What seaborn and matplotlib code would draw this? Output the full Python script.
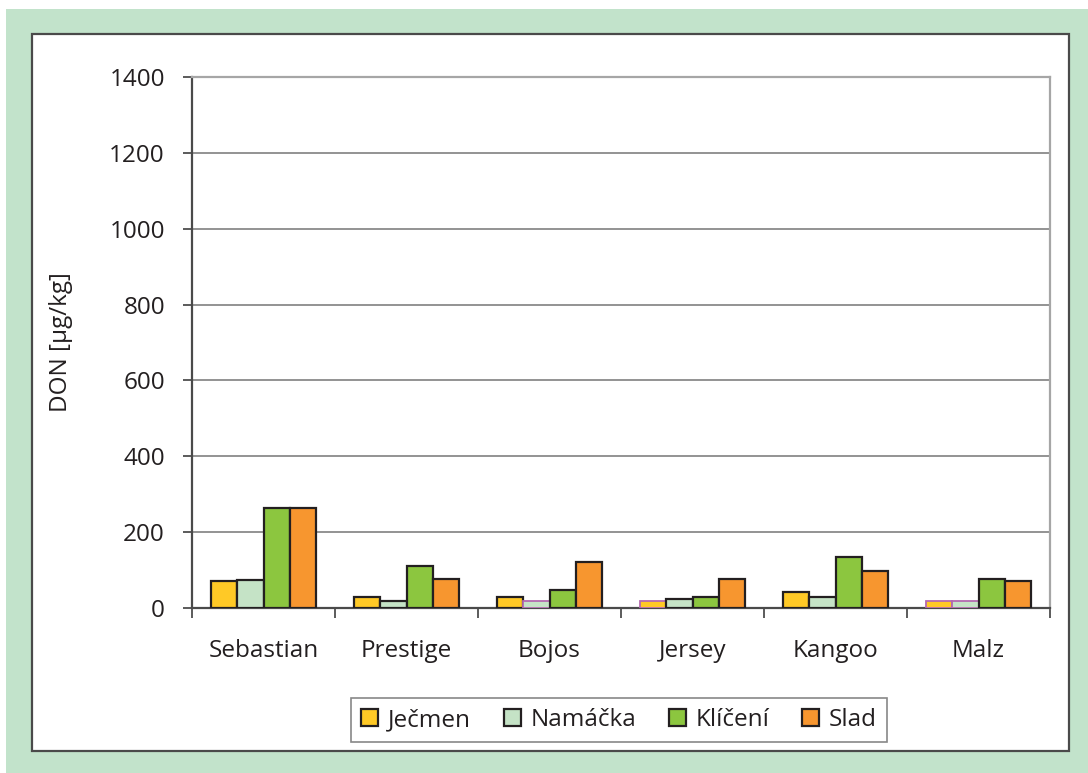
import numpy as np
import pandas as pd
import matplotlib
matplotlib.use("Agg")
import matplotlib.pyplot as plt
from matplotlib.patches import Rectangle
from matplotlib.ticker import FixedLocator
import seaborn as sns

varieties = ["Sebastian", "Prestige", "Bojos", "Jersey", "Kangoo", "Malz"]
stages = ["Ječmen", "Namáčka", "Klíčení", "Slad"]
jecmen = [70, 28, 28, 18, 42, 18]
namacka = [75, 18, 18, 24, 29, 18]
kliceni = [263, 110, 47, 29, 134, 76]
slad = [263, 76, 121, 76, 98, 71]
# bars drawn with a purple outline in the original (values at limit)
purple_outlined = [("Bojos", "Namáčka"), ("Jersey", "Ječmen"),
                   ("Malz", "Ječmen"), ("Malz", "Namáčka")]
y_ticks = [0, 200, 400, 600, 800, 1000, 1200, 1400]

colors = ["#FFC926", "#C5E3C6", "#8CC63F", "#F7962F"]

rows = []
for st, vals in zip(stages, [jecmen, namacka, kliceni, slad]):
    for v, val in zip(varieties, vals):
        rows.append({"variety": v, "stage": st, "value": val})
df = pd.DataFrame(rows)

sns.set_theme(style="white")
plt.rcParams["font.family"] = ["Open Sans", "DejaVu Sans"]

W, H = 1088, 773
fig = plt.figure(figsize=(W / 100, H / 100), dpi=100)
fig.patch.set_facecolor("white")

# green frame and white panel
fig.add_artist(Rectangle((6 / W, 0), 1 - 6 / W, 1 - 9 / H, transform=fig.transFigure,
                         facecolor="#C2E3CB", edgecolor="none", zorder=-10))
fig.add_artist(Rectangle((32 / W, 1 - 751 / H), (1069 - 32) / W, (751 - 34) / H,
                         transform=fig.transFigure, facecolor="white",
                         edgecolor="#4a4a4a", linewidth=1.6, zorder=-9))

ax = fig.add_axes([192 / W, 1 - 608 / H, (1050 - 192) / W, (608 - 77) / H])
ax.set_facecolor("white")

sns.barplot(data=df, x="variety", y="value", hue="stage", order=varieties,
            hue_order=stages, palette=colors, saturation=1, width=0.734,
            edgecolor="#231F20", linewidth=1.6, ax=ax, legend=True, zorder=3)

for i, cont in enumerate(ax.containers):
    for j, bar in enumerate(cont):
        if (varieties[j], stages[i]) in purple_outlined:
            bar.set_edgecolor("#B469B0")
            bar.set_linewidth(1.3)

FS = 17.5
ax.set_ylim(0, 1400)
ax.set_xlim(-0.5, len(varieties) - 0.5)
ax.set_yticks(y_ticks)
ax.yaxis.grid(True, color="#8a8a8a", linewidth=1.3, zorder=0)
ax.set_axisbelow(True)
ax.tick_params(axis="y", which="major", length=6.5, width=1.2, color="#404040",
               direction="out", pad=13, labelsize=FS, labelcolor="#231F20", left=True)
ax.tick_params(axis="x", which="major", length=0, pad=22, labelsize=FS,
               labelcolor="#231F20")
ax.xaxis.set_minor_locator(FixedLocator(np.arange(0.5, len(varieties) - 0.5, 1.0).tolist()
                                        + [-0.5, len(varieties) - 0.5]))
ax.tick_params(axis="x", which="minor", length=7, width=1.2, color="#404040",
               direction="out", bottom=True)
ax.set_xlabel("")
ax.set_ylabel("DON [µg/kg]", fontsize=FS, color="#231F20", labelpad=26)

for s in ["left", "bottom"]:
    ax.spines[s].set_color("#4a4a4a")
    ax.spines[s].set_linewidth(1.6)
for s in ["top", "right"]:
    ax.spines[s].set_color("#a6a6a6")
    ax.spines[s].set_linewidth(1.6)

handles, labels = ax.get_legend_handles_labels()
ax.get_legend().remove()
leg = fig.legend(handles, labels, loc="center", bbox_to_anchor=(619 / W, 1 - 720 / H),
                 ncol=4, frameon=True, fontsize=FS, handlelength=0.7,
                 handleheight=0.7, handletextpad=0.4, columnspacing=1.35,
                 borderpad=0.4, fancybox=False, edgecolor="#6a6a6a")
leg.get_frame().set_linewidth(1.2)
for t in leg.get_texts():
    t.set_color("#231F20")

fig.savefig("out.png", dpi=100, facecolor=fig.get_facecolor())
